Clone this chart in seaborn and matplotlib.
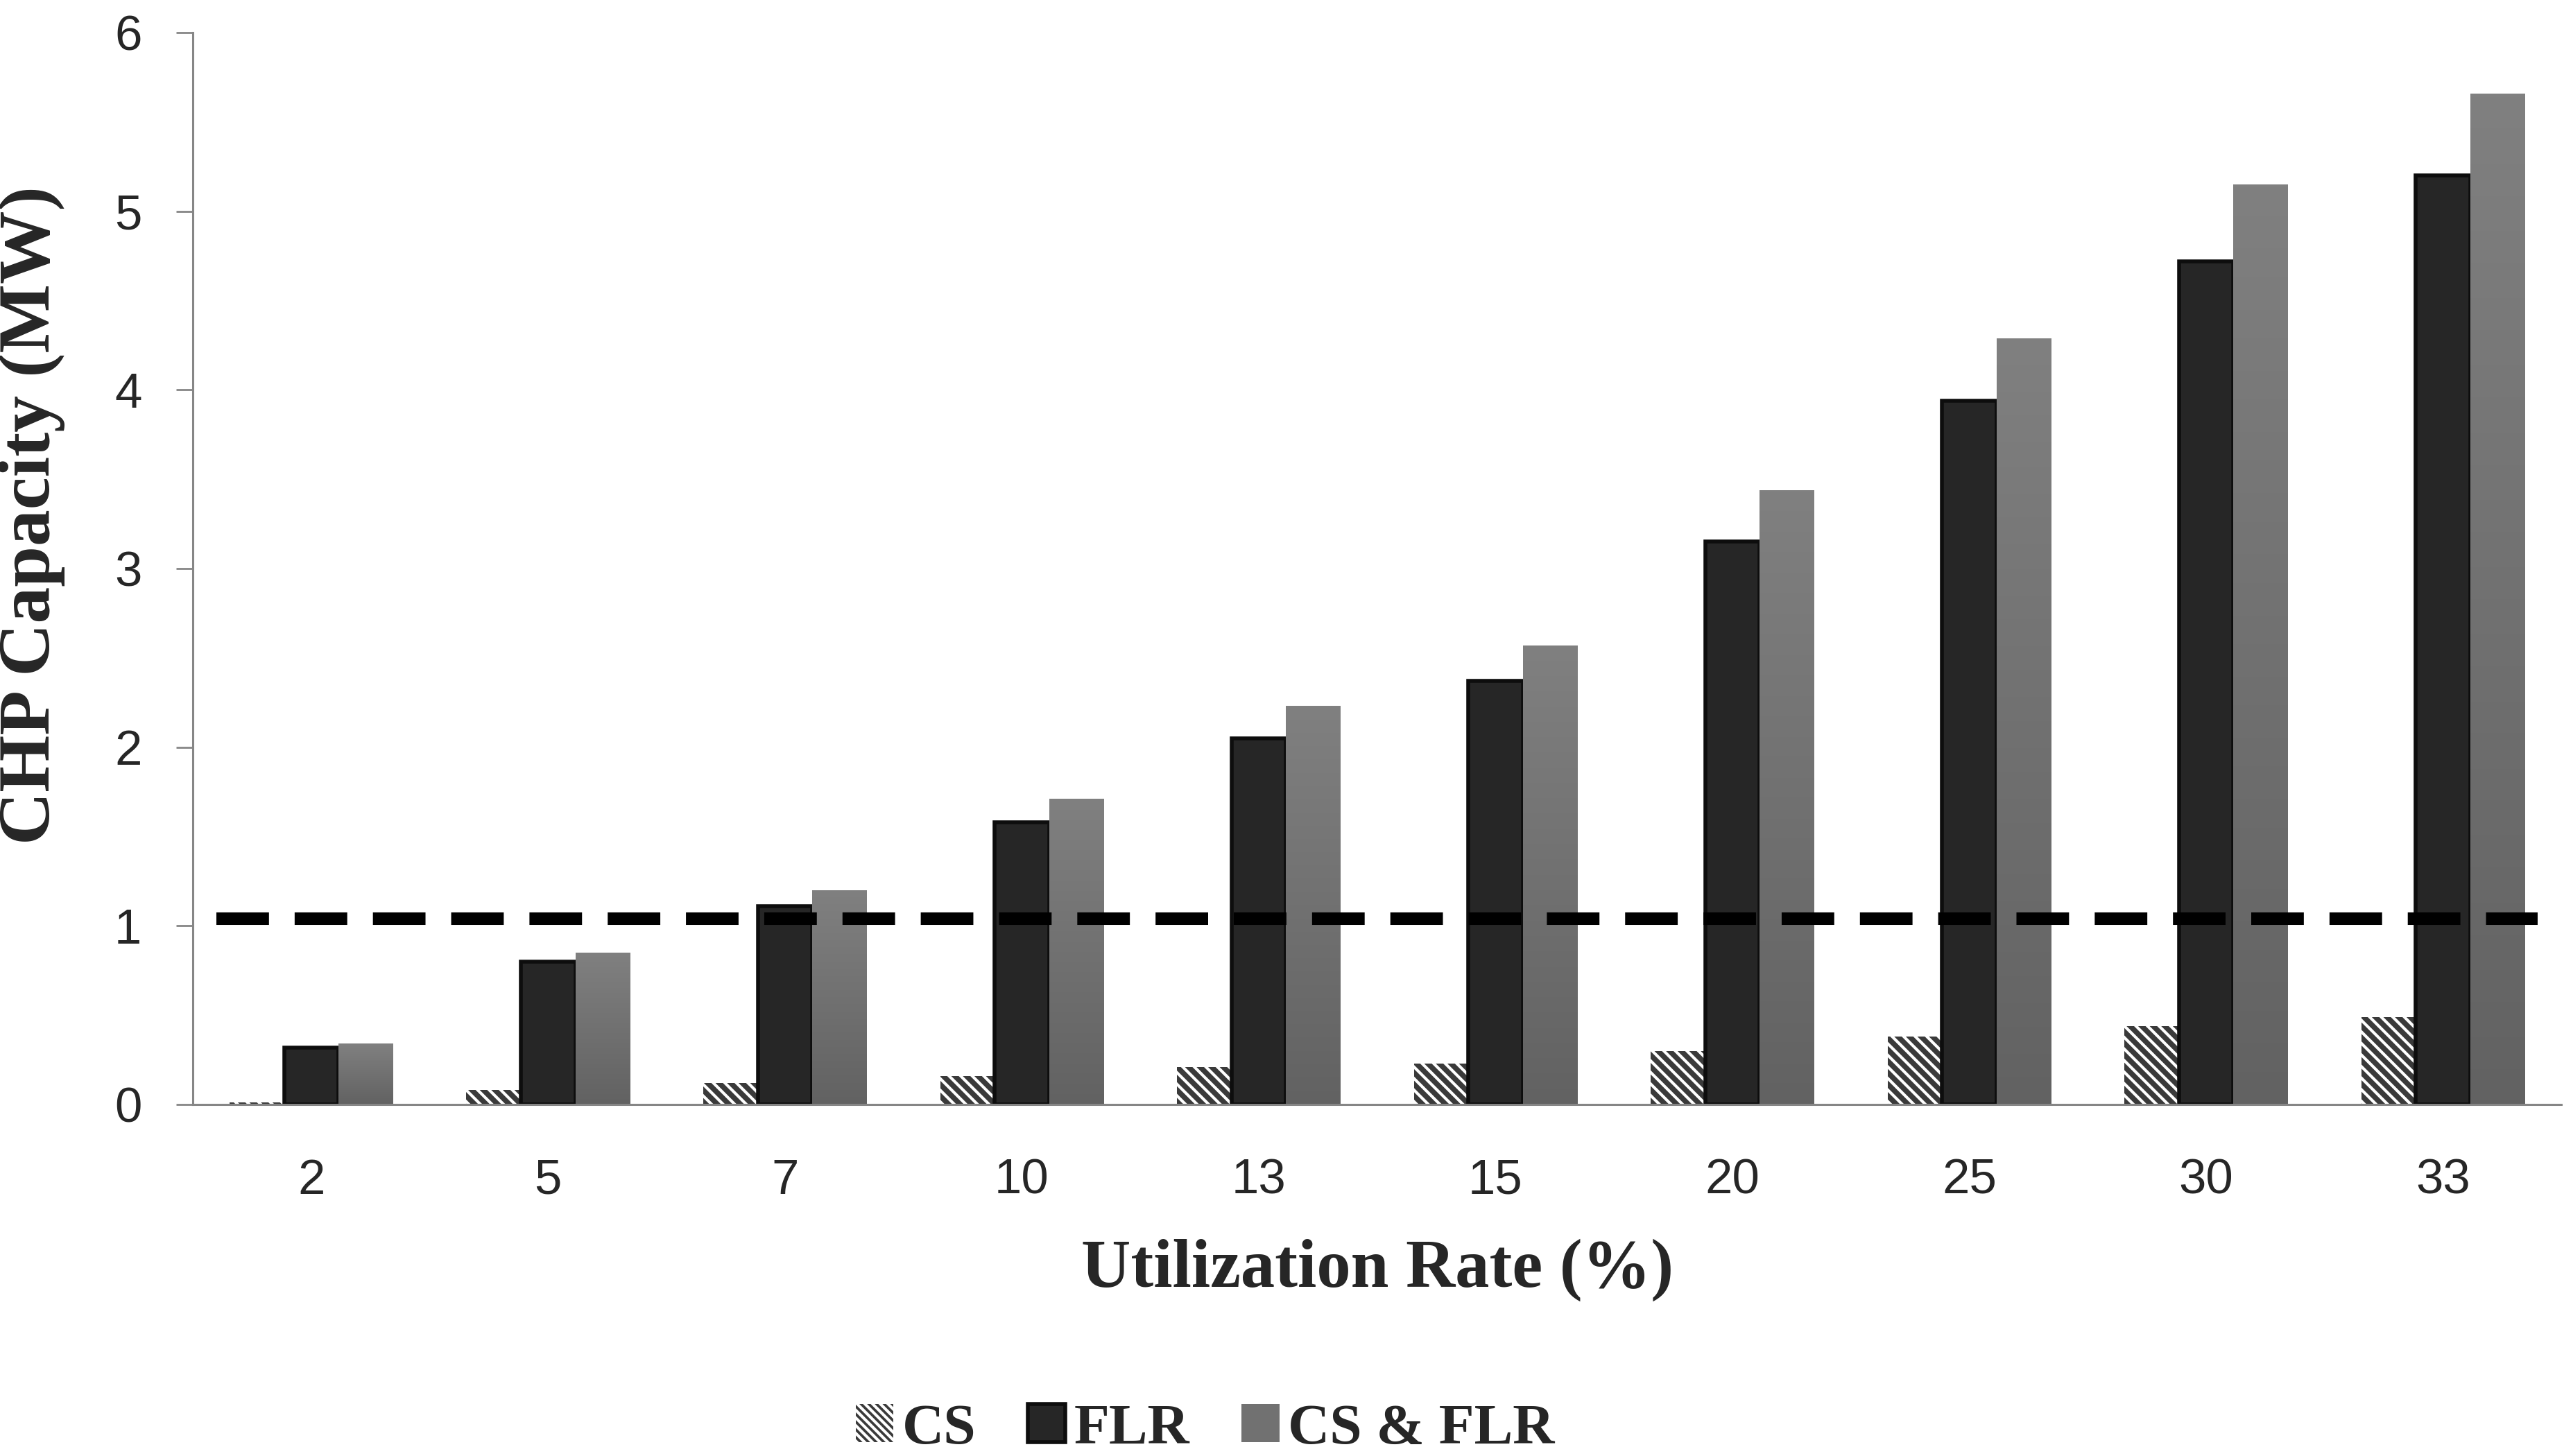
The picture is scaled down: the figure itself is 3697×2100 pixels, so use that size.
import numpy as np
import pandas as pd
import matplotlib
matplotlib.use("Agg")
import matplotlib.pyplot as plt
from matplotlib.patches import Patch
from matplotlib.colors import LinearSegmentedColormap
import seaborn as sns

rates = ["2", "5", "7", "10", "13", "15", "20", "25", "30", "33"]
cs = [0.01, 0.08, 0.12, 0.16, 0.21, 0.23, 0.30, 0.38, 0.44, 0.49]
flr = [0.32, 0.80, 1.11, 1.58, 2.05, 2.37, 3.15, 3.94, 4.72, 5.20]
cs_flr = [0.34, 0.85, 1.20, 1.71, 2.23, 2.57, 3.44, 4.29, 5.15, 5.66]
series = ["CS", "FLR", "CS & FLR"]
threshold = 1.04

df = pd.DataFrame({
    "rate": rates * 3,
    "capacity": cs + flr + cs_flr,
    "series": [s for s in series for _ in rates],
})

sns.set_style("white")
plt.rcParams["hatch.linewidth"] = 3.0

fig = plt.figure(figsize=(36.97, 21), dpi=100)
ax = fig.add_axes([0.0752, 0.2414, 0.9238, 0.7362])

palette = {"CS": "#3a3a3a", "FLR": "#262626", "CS & FLR": "#717171"}
sns.barplot(data=df, x="rate", y="capacity", hue="series", order=rates,
            hue_order=series, palette=palette, width=0.69, saturation=1,
            legend=False, ax=ax)

# CS bars: dark with white diagonal stripes
for p in ax.containers[0]:
    p.set_hatch("\\\\")
    p.set_edgecolor("white")
    p.set_linewidth(0)

# FLR bars: dark border
for p in ax.containers[1]:
    p.set_edgecolor("#0d0d0d")
    p.set_linewidth(4)

# CS & FLR bars: vertical grey gradient
grad_cmap = LinearSegmentedColormap.from_list("g", ["#626262", "#808080"])
grad = np.linspace(0, 1, 256).reshape(-1, 1)
for p in ax.containers[2]:
    x0, y0 = p.get_x(), p.get_y()
    w, h = p.get_width(), p.get_height()
    p.set_linewidth(0)
    im = ax.imshow(grad, extent=[x0, x0 + w, y0, y0 + h], origin="lower",
                   cmap=grad_cmap, aspect="auto", zorder=p.get_zorder() + 0.1)
    im.set_clip_path(p)

ax.plot([-0.4, 9.4], [threshold, threshold], color="black", lw=13,
        dashes=(4.2, 2.05), zorder=5)

ax.set_xlim(-0.5, 9.5)
ax.set_ylim(0, 6)
ax.set_yticks(range(7))

sns.despine(ax=ax)
for s in ["left", "bottom"]:
    ax.spines[s].set_color("#868686")
    ax.spines[s].set_linewidth(2.2)

ax.tick_params(axis="y", which="major", left=True, length=17, width=2,
               color="#868686", pad=36, labelsize=51)
ax.tick_params(axis="x", length=0, pad=56, labelsize=51)
for lab in ax.get_xticklabels() + ax.get_yticklabels():
    lab.set_fontfamily("Liberation Sans")

ax.set_xlabel("Utilization Rate (%)", fontsize=71, fontweight="bold",
              fontfamily="Liberation Serif", labelpad=36)
ax.set_ylabel("CHP Capacity (MW)", fontsize=76, fontweight="bold",
              fontfamily="Liberation Serif")
ax.yaxis.set_label_coords(-0.054, 0.55)

handles = [
    Patch(facecolor="#3a3a3a", edgecolor="white", hatch="\\\\\\", lw=0),
    Patch(facecolor="#262626", edgecolor="#0d0d0d", lw=4),
    Patch(facecolor="#717171", lw=0),
]
fig.legend(handles, series, loc="center", bbox_to_anchor=(0.47, 0.018),
           ncol=3, frameon=False, handlelength=0.65, handleheight=0.65,
           handletextpad=0.15, columnspacing=0.9,
           prop={"family": "Liberation Serif", "weight": "bold", "size": 60})

fig.savefig("out.png", dpi=100)
